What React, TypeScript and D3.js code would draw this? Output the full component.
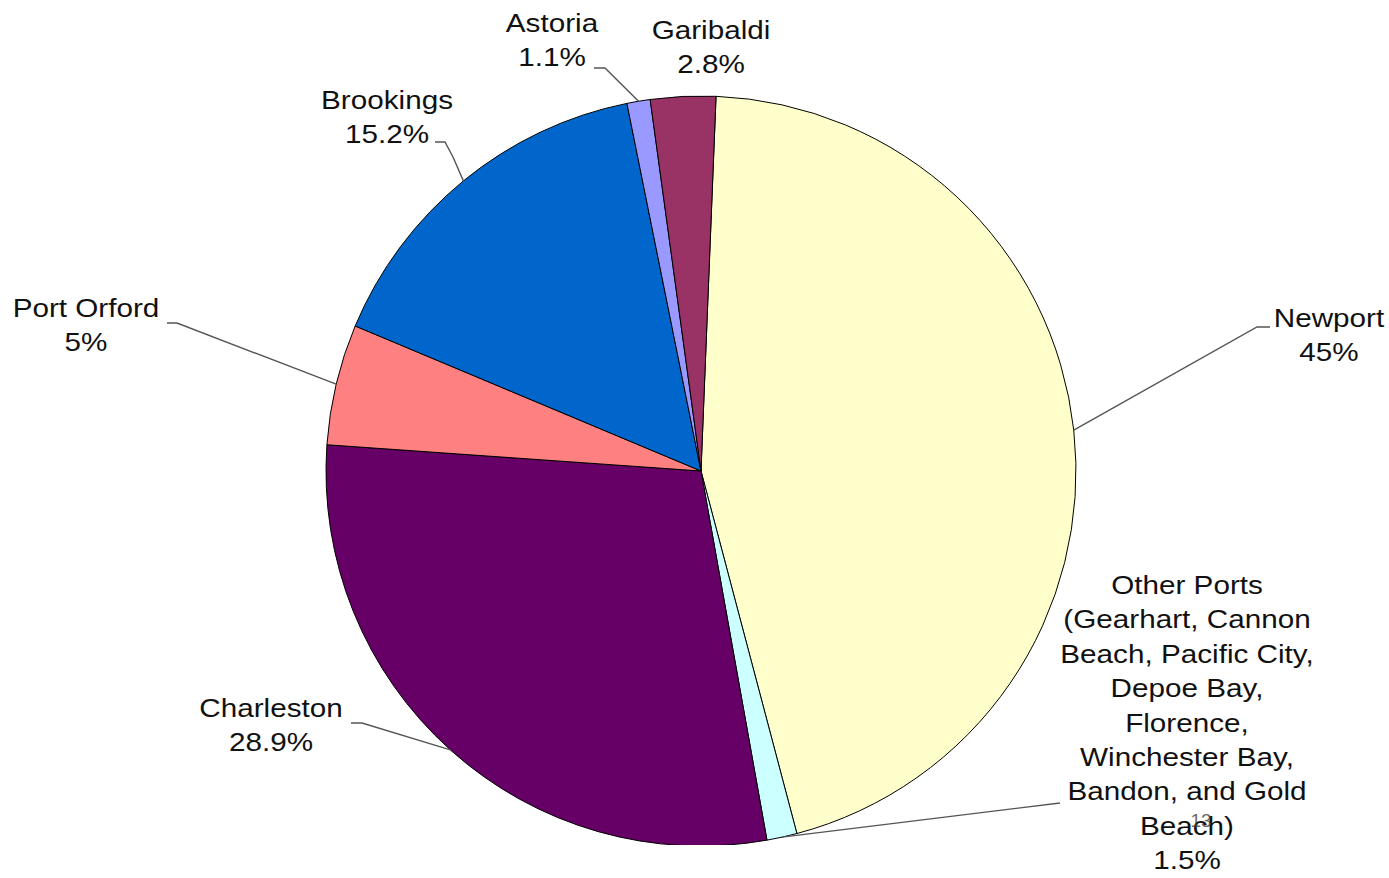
import React from 'react';
import * as d3 from 'd3';

const ports = ['Newport', 'Other Ports', 'Charleston', 'Port Orford', 'Brookings', 'Astoria', 'Garibaldi'];
const shares = [45.2, 1.3, 28.9, 5.2, 15.5, 1.0, 2.8];
const shareLabels = ['45%', '1.5%', '28.9%', '5%', '15.2%', '1.1%', '2.8%'];
const nameLines = [
  ['Newport'],
  ['Other Ports', '(Gearhart, Cannon', 'Beach, Pacific City,', 'Depoe Bay,', 'Florence,', 'Winchester Bay,', 'Bandon, and Gold', 'Beach)'],
  ['Charleston'],
  ['Port Orford'],
  ['Brookings'],
  ['Astoria'],
  ['Garibaldi'],
];

const colors = ['#FFFFCC', '#CCFFFF', '#660066', '#FF8080', '#0066CC', '#9999FF', '#993366'];

// label layout: text centre x, first baseline y, leader elbow points (null = no leader)
const labelLayout: { x: number; y: number; leader: [number, number][] | null }[] = [
  { x: 1329, y: 327, leader: [[1270, 327], [1257, 327]] },
  { x: 1187, y: 594, leader: [[1060, 803]] },
  { x: 271, y: 717, leader: [[351, 723], [362, 723]] },
  { x: 86, y: 317, leader: [[167, 323], [177, 323]] },
  { x: 387, y: 109, leader: [[435, 142], [445, 142], [453, 157]] },
  { x: 552, y: 32, leader: [[594, 68], [605, 68]] },
  { x: 711, y: 39, leader: null },
];

const W = 1389;
const H = 878;
const cx = 701;
const cy = 471;
const R = 375;
const LINE = 34.4;
const startDeg = 2.3;

export default function App() {
  const pie = d3
    .pie<number>()
    .sort(null)
    .value((d) => d)
    .startAngle((startDeg * Math.PI) / 180)
    .endAngle((startDeg * Math.PI) / 180 + 2 * Math.PI);
  const arcs = pie(shares);
  const arc = d3.arc<d3.PieArcDatum<number>>().innerRadius(0).outerRadius(R);

  return (
    <svg width={W} height={H} style={{ position: 'absolute', left: 0, top: 0, background: '#fff' }}>
      <defs>
        <clipPath id="pieclip">
          <rect x={0} y={0} width={W} height={845} />
        </clipPath>
      </defs>
      <g clipPath="url(#pieclip)">
        <g transform={`translate(${cx},${cy})`}>
          {arcs.map((a, i) => (
            <path key={ports[i]} d={arc(a) || ''} fill={colors[i]} stroke="#000" strokeWidth={1} />
          ))}
        </g>
      </g>
      {arcs.map((a, i) => {
        const lay = labelLayout[i];
        if (!lay.leader) return null;
        const mid = (a.startAngle + a.endAngle) / 2;
        const px = cx + R * Math.sin(mid);
        const py = cy - R * Math.cos(mid);
        const pts: [number, number][] = [...lay.leader, [px, py]];
        return (
          <path
            key={'l' + i}
            d={d3.line()(pts) || ''}
            fill="none"
            stroke="#555"
            strokeWidth={1.4}
          />
        );
      })}
      {arcs.map((a, i) => {
        const lay = labelLayout[i];
        const lines = [...nameLines[i], shareLabels[i]];
        return (
          <g key={'t' + i} fontFamily="'Liberation Sans', Arial, sans-serif" fontSize={26.5} fill="#111">
            {lines.map((s, j) => (
              <text
                key={j}
                textAnchor="middle"
                transform={`translate(${lay.x},${lay.y + j * LINE}) scale(1.12,1)`}
              >
                {s}
              </text>
            ))}
          </g>
        );
      })}
      <text x={1201} y={827} textAnchor="middle" fontFamily="'Liberation Sans', Arial, sans-serif" fontSize={19} fill="#444" opacity={0.8}>
        13
      </text>
    </svg>
  );
}
